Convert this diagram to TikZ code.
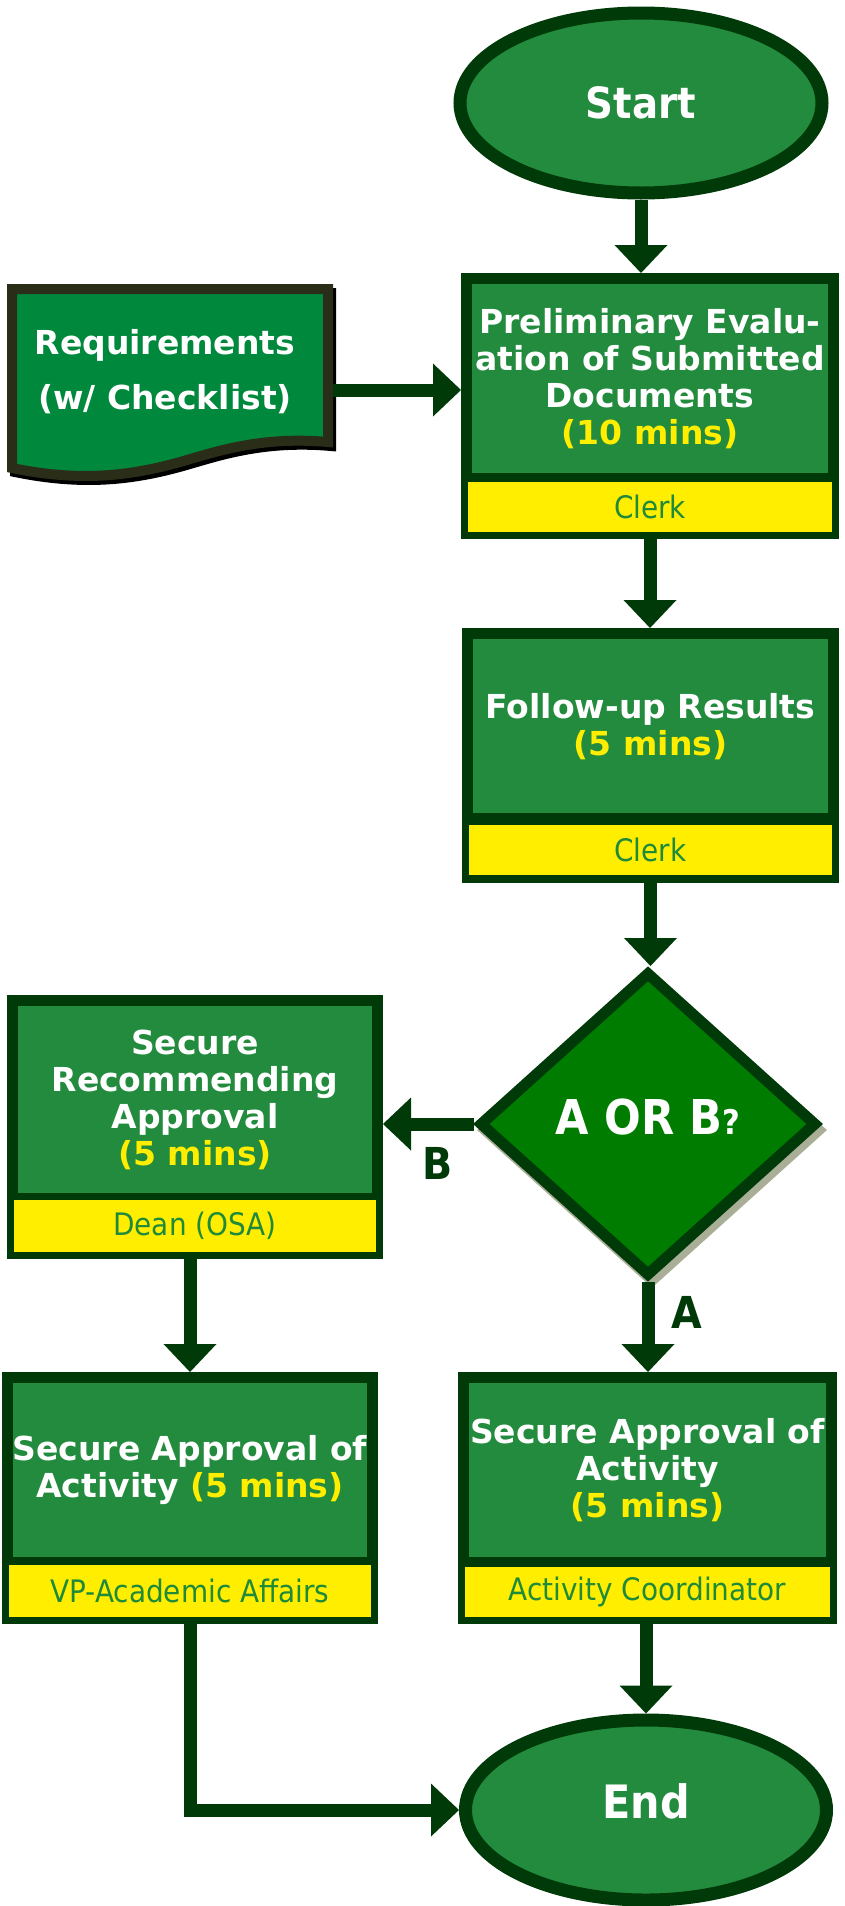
\documentclass[tikz,border=0pt]{standalone}
\usepackage{fontspec}
\usetikzlibrary{arrows.meta,shapes.geometric}
\newfontfamily\flowfont{DejaVuSansCondensed}[Extension=.ttf, BoldFont=*-Bold]
\newfontfamily\widefont{DejaVu Sans}

\definecolor{edge}{RGB}{0,58,8}
\definecolor{boxgreen}{RGB}{35,139,62}
\definecolor{docgreen}{RGB}{0,137,61}
\definecolor{docedge}{RGB}{42,46,24}
\definecolor{decgreen}{RGB}{0,125,0}
\definecolor{shade}{RGB}{169,174,150}
\definecolor{band}{RGB}{255,238,0}
\definecolor{roletext}{RGB}{31,138,58}

\tikzset{
  outerbox/.style={rectangle, fill=edge, inner sep=0pt, outer sep=0pt},
  titlepart/.style={rectangle, fill=boxgreen, inner sep=0pt, anchor=north,
    text=white, align=center, font=\widefont\bfseries\fontsize{33}{37}\selectfont},
  rolepart/.style={rectangle, fill=band, inner sep=0pt, anchor=south,
    text=roletext, font=\flowfont\fontsize{31}{34}\selectfont},
  term/.style={ellipse, draw=edge, line width=13pt, fill=boxgreen, inner sep=0pt,
    text=white, font=\flowfont\bfseries\fontsize{43}{43}\selectfont},
  decision/.style={diamond, draw=edge, line width=11pt, fill=decgreen, inner sep=0pt,
    miter limit=20, text=white, font=\flowfont\bfseries\fontsize{48}{48}\selectfont},
  decshade/.style={diamond, draw=shade, line width=11pt, fill=shade, inner sep=0pt, miter limit=20},
  branch/.style={text=edge, font=\flowfont\bfseries\fontsize{44}{44}\selectfont},
  doctext/.style={text=white, align=center, font=\widefont\bfseries\fontsize{33}{55}\selectfont},
  flow/.style={draw=edge, line width=13pt, line join=miter,
    -{Triangle[length=28pt,width=53pt,line width=0pt]}}
}

\begin{document}
\begin{tikzpicture}[x=1pt,y=-1pt]
\useasboundingbox (0,0) rectangle (844,1906);

% document shape: requirements sheet with wavy bottom edge
\begin{scope}[shift={(3,4)}]
  \filldraw[shade, line width=10pt, line join=miter]
    (12,289) -- (328,289) -- (328,442)
    .. controls (260,436) and (215,452) .. (180,462)
    .. controls (130,476) and (80,482) .. (12,468) -- cycle;
\end{scope}
\filldraw[fill=docgreen, draw=docedge, line width=10pt, line join=miter]
  (12,289) -- (328,289) -- (328,442)
  .. controls (260,436) and (215,452) .. (180,462)
  .. controls (130,476) and (80,482) .. (12,468) -- cycle;
\node[doctext] (req) at (165,372) {Requirements\\(w/ Checklist)};
\coordinate (reqR) at (333,390);

% terminals
\node[term, minimum width=362pt, minimum height=180pt] (start) at (641,103) {Start};
\node[term, minimum width=361pt, minimum height=180pt, font=\flowfont\bfseries\fontsize{46}{46}\selectfont]
  (end) at (646,1810) {\raisebox{18pt}{End}};

% preliminary evaluation
\node[outerbox, minimum width=378pt, minimum height=266pt] (prelim) at (650,406) {};
\node[titlepart, minimum width=356pt, minimum height=189pt] (prelimT) at ([yshift=-11pt]prelim.north)
  {Preliminary Evalu-\\ation of Submitted\\Documents\\\textcolor{band}{(10 mins)}};
\node[rolepart, minimum width=364pt, minimum height=50pt] (prelimR) at ([yshift=7pt]prelim.south) {Clerk};

% follow-up
\node[outerbox, minimum width=377pt, minimum height=255pt] (follow) at (650.5,755.5) {};
\node[titlepart, minimum width=355pt, minimum height=174pt] (followT) at ([yshift=-11pt]follow.north)
  {Follow-up Results\\\textcolor{band}{(5 mins)}};
\node[rolepart, minimum width=363pt, minimum height=50pt] (followR) at ([yshift=8pt]follow.south) {Clerk};

% decision
\node[decshade, minimum width=338pt, minimum height=305pt] (decS) at (652,1130) {};
\node[decision, minimum width=338pt, minimum height=305pt] (dec) at (648,1124)
  {\raisebox{14pt}{A OR B{\fontsize{34}{34}\selectfont ?}}};

% recommending approval
\node[outerbox, minimum width=376pt, minimum height=264pt] (rec) at (195,1127) {};
\node[titlepart, minimum width=354pt, minimum height=187pt] (recT) at ([yshift=-11pt]rec.north)
  {Secure\\Recommending\\Approval\\\textcolor{band}{(5 mins)}};
\node[rolepart, minimum width=362pt, minimum height=52pt] (recR) at ([yshift=7pt]rec.south) {Dean (OSA)};

% approval by VP
\node[outerbox, minimum width=376pt, minimum height=252pt] (vp) at (190,1498) {};
\node[titlepart, minimum width=354pt, minimum height=174pt] (vpT) at ([yshift=-11pt]vp.north)
  {Secure Approval of\\Activity \textcolor{band}{(5 mins)}};
\node[rolepart, minimum width=362pt, minimum height=52pt] (vpR) at ([yshift=7pt]vp.south) {VP-Academic Affairs};

% approval by coordinator
\node[outerbox, minimum width=379pt, minimum height=252pt] (coord) at (647.5,1498) {};
\node[titlepart, minimum width=357pt, minimum height=174pt] (coordT) at ([yshift=-11pt]coord.north)
  {Secure Approval of\\Activity\\\textcolor{band}{(5 mins)}};
\node[rolepart, minimum width=365pt, minimum height=50pt] (coordR) at ([yshift=7pt]coord.south) {Activity Coordinator};

% branch labels
\node[branch] (labB) at (438,1163) {B};
\node[branch] (labA) at (687,1312) {A};

% connectors
\draw[flow] (start.south) -- (start.south |- prelim.north);
\draw[flow] (reqR) -- (reqR -| prelim.west);
\draw[flow] (prelim.south) -- (prelim.south |- follow.north);
\draw[flow] (follow.south) -- (follow.south |- dec.north);
\draw[flow] (dec.west) -- (dec.west -| rec.east);
\draw[flow] (dec.south) -- (dec.south |- coord.north);
\draw[flow] (vp.north |- rec.south) -- (vp.north);
\draw[flow] (coord.south -| end.north) -- (end.north);
\draw[flow] (vp.south) |- (end.west);
\end{tikzpicture}
\end{document}
